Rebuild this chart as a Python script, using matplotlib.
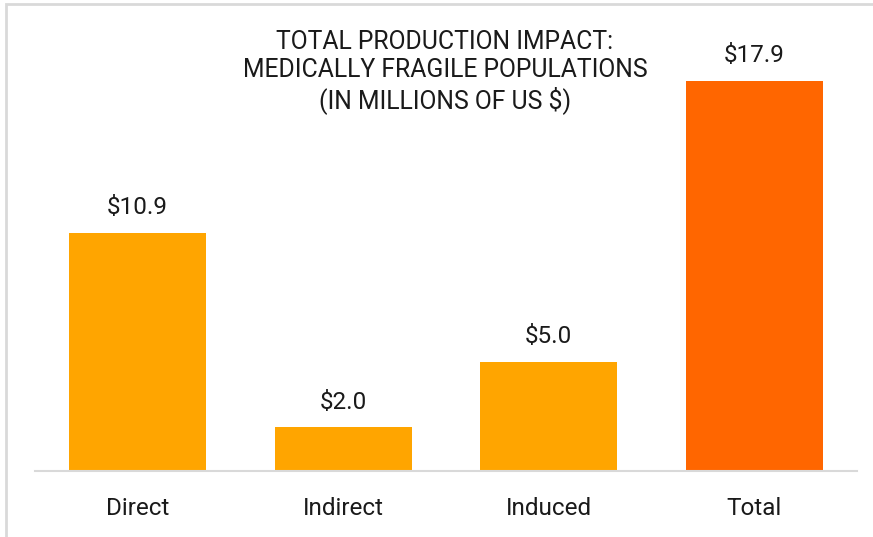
import matplotlib.pyplot as plt
from matplotlib.patches import Rectangle

plt.rcParams['font.family'] = ['Roboto', 'DejaVu Sans']

categories = ['Direct', 'Indirect', 'Induced', 'Total']
values = [10.9, 2.0, 5.0, 17.9]
bar_colors = ['#FFA500', '#FFA500', '#FFA500', '#FF6600']
title = 'TOTAL PRODUCTION IMPACT:\nMEDICALLY FRAGILE POPULATIONS\n(IN MILLIONS OF US $)'

W, H = 873, 537
fig = plt.figure(figsize=(W / 100, H / 100), dpi=100)
ax = fig.add_axes([35 / W, (H - 471) / H, (857 - 35) / W, (471 - 35) / H])

# light frame, only its left and top edges fall inside the picture
fig.patches.append(Rectangle((5.5 / W, -0.1), 1.2, 1.1 - 3.5 / H, transform=fig.transFigure,
                             fill=False, edgecolor='#D9D9D9', linewidth=2))

x = range(len(categories))
bars = ax.bar(x, values, width=0.665, color=bar_colors)
for b, v in zip(bars, values):
    ax.annotate('$%.1f' % v, (b.get_x() + b.get_width() / 2, v),
                xytext=(0, 10), textcoords='offset points',
                ha='center', va='bottom', fontsize=17.5, color='#1a1a1a')

ax.set_xlim(-0.5, 3.5)
ax.set_ylim(0, 20)
ax.set_xticks(list(x))
ax.set_xticklabels(categories, fontsize=17.5, color='#1a1a1a')
ax.tick_params(axis='x', length=0, pad=19)
ax.set_yticks([])
for s in ['top', 'right', 'left']:
    ax.spines[s].set_visible(False)
ax.spines['bottom'].set_color('#D9D9D9')
ax.spines['bottom'].set_linewidth(1.5)

fig.text(445 / W, (H - 72) / H, title, ha='center', va='center',
         fontsize=17.8, linespacing=1.2, color='#1a1a1a')

fig.savefig('out.png', dpi=100)
